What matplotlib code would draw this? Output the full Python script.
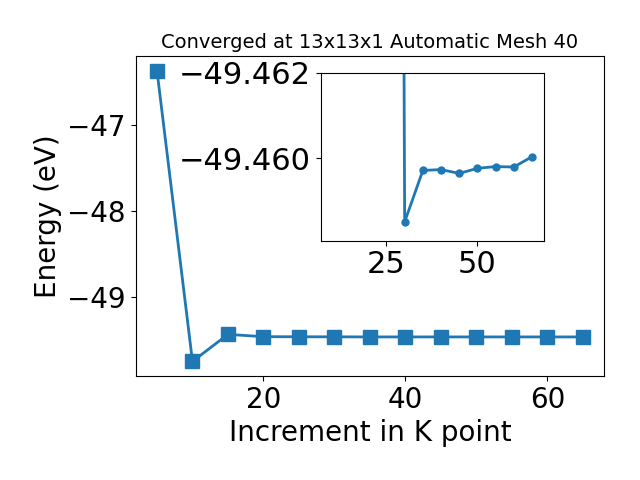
import matplotlib
matplotlib.use("Agg")
import matplotlib.pyplot as plt

# k-point convergence data
kpoints = [5, 10, 15, 20, 25, 30, 35, 40, 45, 50, 55, 60, 65]
energy = [-46.37, -49.744, -49.43, -49.457, -49.458, -49.4585, -49.4597,
          -49.4597, -49.4596, -49.4598, -49.4598, -49.4598, -49.4600]

# zoomed view (inset)
inset_k = [25, 30, 35, 40, 45, 50, 55, 60, 65]
inset_e = [-49.56, -49.45852, -49.45972, -49.45974, -49.45965, -49.45977,
           -49.45981, -49.4598, -49.46004]

fig = plt.figure(figsize=(6.4, 4.8), dpi=100)
ax = fig.add_axes([0.212, 0.2167, 0.732, 0.6667])
ax.plot(kpoints, energy, marker='s', markersize=10, linewidth=2, color='#1f77b4')
ax.set_xlabel("Increment in K point", fontsize=20)
ax.set_ylabel("Energy (eV)", fontsize=20)
ax.set_title("Converged at 13x13x1 Automatic Mesh 40", fontsize=14)
ax.set_yticks([-49, -48, -47])
ax.tick_params(labelsize=20)

# inset
axins = fig.add_axes([0.501, 0.4985, 0.349, 0.35])
axins.plot(inset_k, inset_e, marker='o', markersize=5, linewidth=2, color='#1f77b4')
axins.set_xlim(6.9, 68.3)
axins.set_ylim(-49.45808, -49.462)
axins.set_xticks([25, 50])
axins.set_yticks([-49.462, -49.460])
axins.tick_params(labelsize=22)

fig.savefig("out.png", dpi=100)
